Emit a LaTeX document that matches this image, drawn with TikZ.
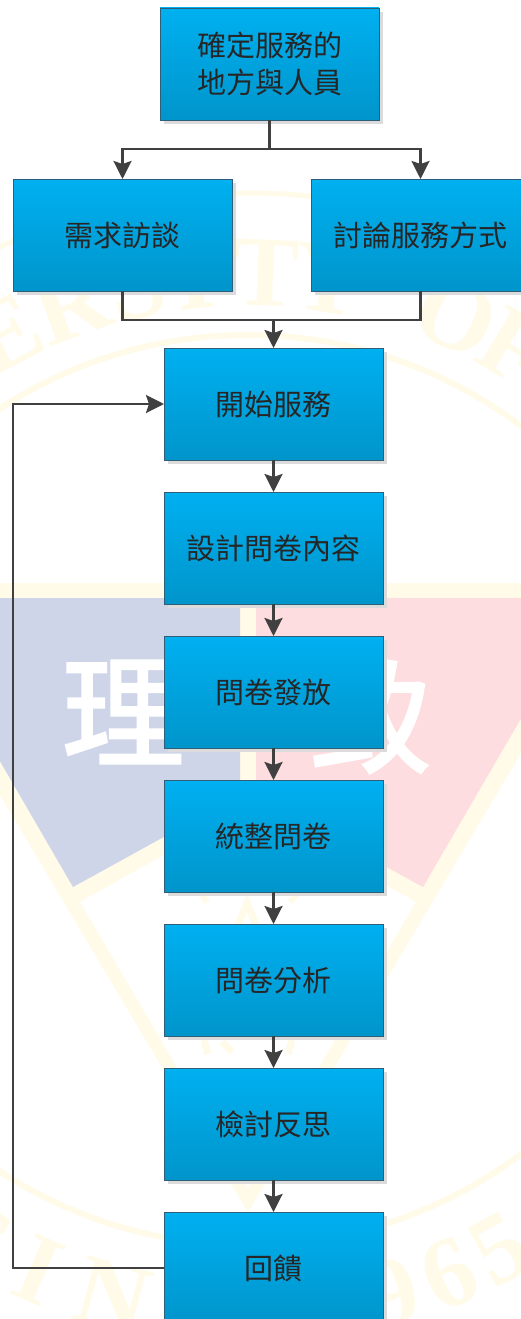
\documentclass[tikz,border=0pt]{standalone}
\usepackage{fontspec}
\setmainfont{Noto Sans CJK TC}
\newfontfamily\ringfont{Liberation Serif}
\newfontfamily\sealfont[FakeBold=2.2]{Noto Sans CJK TC}
\usetikzlibrary{arrows.meta,shadows,calc}

\definecolor{markyellow}{HTML}{FFFBE8}
\definecolor{markblue}{HTML}{CFD5E9}
\definecolor{markred}{HTML}{FDDDDF}
\definecolor{linegray}{HTML}{404040}
\definecolor{boxtop}{HTML}{00B0F0}
\definecolor{boxbottom}{HTML}{0095CB}
\definecolor{boxline}{HTML}{2F5F78}

\tikzset{
	flowbox/.style={draw=boxline, line width=0.9pt, top color=boxtop, bottom color=boxbottom,
		minimum width=219pt, minimum height=112pt, inner sep=0pt, outer sep=0pt, align=center,
		font=\fontsize{29}{37}\selectfont, text=black!85,
		drop shadow={shadow xshift=4pt, shadow yshift=-4pt, fill=black!14, opacity=1}},
	flowline/.style={color=linegray, line width=2.6pt, line join=miter},
	flowarrow/.style={flowline, -{Stealth[length=18pt, width=18pt, inset=3pt]}},
	ringletter/.style={color=markyellow, inner sep=0pt, font=\ringfont\bfseries\fontsize{100}{100}\selectfont},
	sealletter/.style={color=white, inner sep=0pt, font=\sealfont\fontsize{122}{122}\selectfont}
}

\begin{document}
\begin{tikzpicture}[x=1pt,y=1pt]
	\useasboundingbox (0,0) rectangle (520,-1319);
	\fill[white] (0,0) rectangle (520,-1319);
	
	% watermark
	\coordinate (seal) at (248,-790);
	\draw[markyellow, line width=6pt] (seal) circle (455);
	\draw[markyellow, line width=5pt] (seal) circle (597);
	\foreach \ang/\ch in {-28/E,-20/R,-12.5/S,-6/I,2/T,9/Y,23.7/O,31/F}
		\node[ringletter, rotate=-\ang] at ($(seal)+(90-\ang:517)$) {\ch};
	\foreach \ang/\ch in {-31/S,-23.6/I,-15/N,-5.5/C,2/E,9.5/1,16/9,22.6/6,28.7/5}
		\node[ringletter, rotate=\ang] at ($(seal)+(\ang-90:524)$) {\ch};
	\fill[markyellow] (-10,-583) -- (530,-583) -- (530,-738) -- (248,-1212) -- (-10,-778) -- cycle;
	\fill[white] (80,-902) -- (248,-808) -- (416,-902) -- (248,-1188) -- cycle;
	\fill[markblue] (-10,-598) -- (240,-598) -- (240,-795) -- (73,-887) -- (-10,-744) -- cycle;
	\fill[markred] (256,-598) -- (530,-598) -- (530,-703) -- (423,-887) -- (256,-795) -- cycle;
	\node[sealletter] at (123,-712) {理};
	\node[sealletter] at (371,-717) {致};
	\draw[markyellow, line width=7pt] (238,-925) -- (247,-903) -- (256,-925);
	\draw[markyellow, line width=6pt] (201,-894) -- (207,-902);
	\draw[markyellow, line width=6pt] (297,-894) -- (290,-902);
	\draw[markyellow, line width=7pt] (204,-1040) -- (208,-1054);
	\draw[markyellow, line width=7pt] (222,-1042) -- (232,-1052);
	\draw[markyellow, line width=7pt] (292,-1040) -- (288,-1054);
	
	% boxes
	\node[flowbox] (place) at (269.5,-64) {確定服務的\\地方與人員};
	\node[flowbox] (need) at (122.5,-235) {需求訪談};
	\node[flowbox] (discuss) at (420.5,-235) {討論服務方式};
	\node[flowbox] (start) at (273.5,-404) {開始服務};
	\node[flowbox] (design) at (273.5,-548) {設計問卷內容};
	\node[flowbox] (send) at (273.5,-692) {問卷發放};
	\node[flowbox] (collect) at (273.5,-836) {統整問卷};
	\node[flowbox] (analyse) at (273.5,-980) {問卷分析};
	\node[flowbox] (review) at (273.5,-1124) {檢討反思};
	\node[flowbox] (feedback) at (273.5,-1268) {回饋};
	
	% connectors
	\coordinate (split) at (269.5,-149);
	\coordinate (merge) at (273.5,-320);
	\coordinate (loop) at (13,-1268);
	\draw[flowline] (place.south) -- (split);
	\draw[flowarrow] (split) -| (need.north);
	\draw[flowarrow] (split) -| (discuss.north);
	\draw[flowline] (need.south) |- (merge);
	\draw[flowline] (discuss.south) |- (merge);
	\draw[flowarrow] (merge) -- (start.north);
	\draw[flowarrow] (start) -- (design);
	\draw[flowarrow] (design) -- (send);
	\draw[flowarrow] (send) -- (collect);
	\draw[flowarrow] (collect) -- (analyse);
	\draw[flowarrow] (analyse) -- (review);
	\draw[flowarrow] (review) -- (feedback);
	\draw[flowarrow] (feedback.west) -- (loop) |- (start.west);
\end{tikzpicture}
\end{document}
